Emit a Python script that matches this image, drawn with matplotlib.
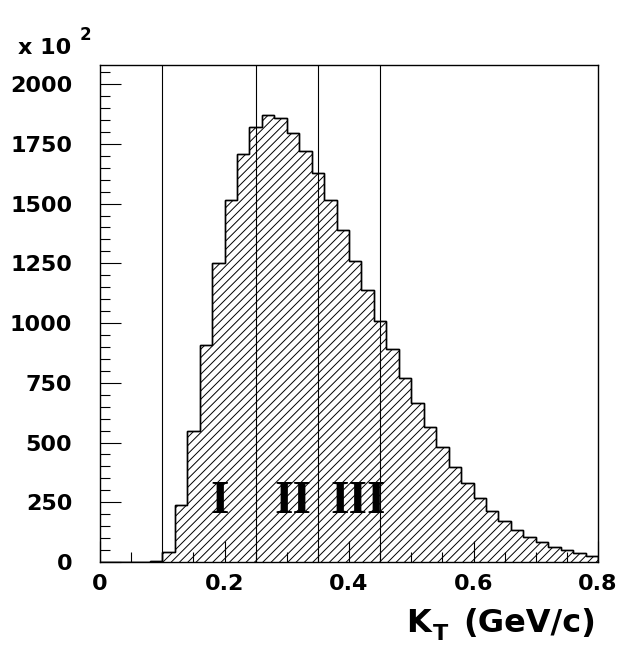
import matplotlib
matplotlib.use("Agg")
import matplotlib.pyplot as plt
import numpy as np
from matplotlib.ticker import MultipleLocator

# ---- data (counts in units of 10^2) ----
bin_edges = [round(0.02 * i, 2) for i in range(41)]
counts = [0, 0, 0, 0, 6,
          42, 237, 548, 907, 1250, 1515, 1708, 1820, 1869, 1858,
          1796, 1720, 1626, 1513, 1388, 1259, 1137, 1008, 890, 771,
          667, 566, 481, 399, 332, 266, 213, 172, 135, 106,
          85, 64, 49, 39, 26]
region_cuts = [0.1, 0.25, 0.35, 0.45]
region_labels = ["I", "II", "III"]
region_label_x = [0.192, 0.3105, 0.4145]
region_label_y = 206
y_ticks = [0, 250, 500, 750, 1000, 1250, 1500, 1750, 2000]
x_ticks = [0, 0.2, 0.4, 0.6, 0.8]
x_ticklabels = ["0", "0.2", "0.4", "0.6", "0.8"]

W, H = 619, 646
plt.rcParams['hatch.linewidth'] = 0.7
plt.rcParams['font.family'] = ['DejaVu Sans']
fig = plt.figure(figsize=(W / 100, H / 100), dpi=100)
ax = fig.add_axes([100 / W, 1 - 562 / H, 498 / W, 497 / H])

ax.stairs(counts, bin_edges, fill=True, facecolor='white', edgecolor='black',
          hatch='////', linewidth=1.0)
ax.stairs(counts, bin_edges, fill=False, edgecolor='black', linewidth=1.0)

for xc in region_cuts:
    ax.axvline(xc, color='black', linewidth=0.8)

for lab, lx in zip(region_labels, region_label_x):
    ax.text(lx, region_label_y, lab, ha='center', va='baseline',
            family='Liberation Serif', fontweight='bold', fontsize=34)

ax.set_xlim(0, 0.8)
ax.set_ylim(0, 2080)
ax.set_xticks(x_ticks)
ax.set_xticklabels(x_ticklabels)
ax.set_yticks(y_ticks)
ax.set_yticklabels([str(v) for v in y_ticks])
ax.xaxis.set_minor_locator(MultipleLocator(0.05))
ax.yaxis.set_minor_locator(MultipleLocator(50))
ax.tick_params(which='major', direction='in', length=15, width=0.8,
               labelsize=16, top=False, right=False)
ax.tick_params(axis='y', which='major', pad=20)
ax.tick_params(axis='x', which='major', pad=9)
ax.tick_params(which='minor', direction='in', length=7.5, width=0.8,
               top=False, right=False)
for lab in ax.get_xticklabels() + ax.get_yticklabels():
    lab.set_fontweight('bold')
for sp in ax.spines.values():
    sp.set_linewidth(1.0)

def ftext(px, py, s, **kw):
    fig.text(px / W, 1 - py / H, s, ha='left', va='baseline', **kw)

# multiplier
ftext(18, 54, "x 10", fontsize=16, fontweight='bold')
ftext(80, 40, "2", fontsize=12, fontweight='bold')

# axis title
ftext(406, 632, "K", fontsize=23, fontweight='bold')
ftext(433, 640, "T", fontsize=16, fontweight='bold')
ftext(463, 632, "(GeV/c)", fontsize=23, fontweight='bold')

fig.savefig("out.png", dpi=100)
